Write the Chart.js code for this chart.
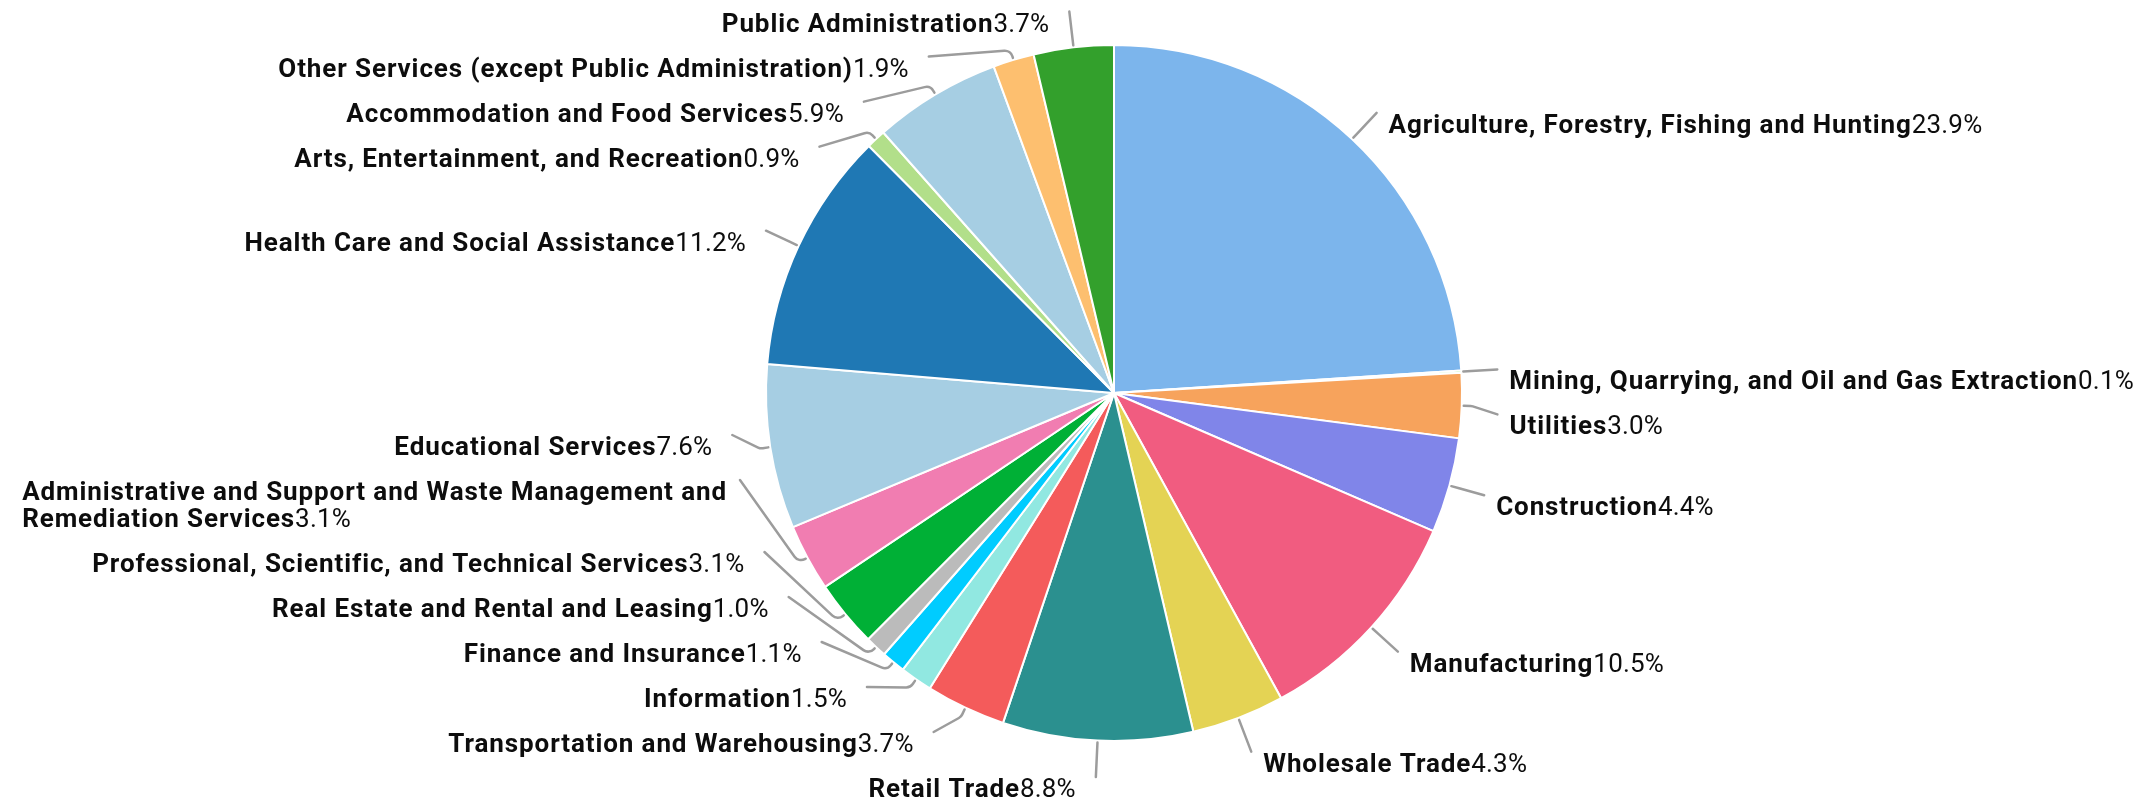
<!DOCTYPE html>
<html>
<head>
<meta charset="utf-8">
<script src="https://cdn.jsdelivr.net/npm/chart.js@4.4.1/dist/chart.umd.min.js"></script>
<style>
  html, body { margin: 0; padding: 0; background: #ffffff; }
  #wrap { width: 2154px; height: 800px; position: relative; }
</style>
</head>
<body>
<div id="wrap"><canvas id="c" width="2154" height="800"></canvas></div>
<script>
// ---- data ----
const categories = [
  "Agriculture, Forestry, Fishing and Hunting",
  "Mining, Quarrying, and Oil and Gas Extraction",
  "Utilities",
  "Construction",
  "Manufacturing",
  "Wholesale Trade",
  "Retail Trade",
  "Transportation and Warehousing",
  "Information",
  "Finance and Insurance",
  "Real Estate and Rental and Leasing",
  "Professional, Scientific, and Technical Services",
  "Administrative and Support and Waste Management and Remediation Services",
  "Educational Services",
  "Health Care and Social Assistance",
  "Arts, Entertainment, and Recreation",
  "Accommodation and Food Services",
  "Other Services (except Public Administration)",
  "Public Administration"
];
const shares = [23.9, 0.1, 3.0, 4.4, 10.5, 4.3, 8.8, 3.7, 1.5, 1.1, 1.0, 3.1, 3.1, 7.6, 11.2, 0.9, 5.9, 1.9, 3.7];
const sliceColors = [
  "#7cb5ec", "#90ed7d", "#f7a35c", "#8085e9", "#f15c80", "#e4d354", "#2b908f",
  "#f45b5b", "#91e8e1", "#00ccff", "#bbbbbb", "#00b036", "#f17db1", "#a6cee3",
  "#1f78b4", "#b2df8a", "#a6cee3", "#fdbf6f", "#33a02c"
];

// ---- label style ----
const FONT_FAMILY = 'Roboto, "Noto Sans", sans-serif';
const FONT_SIZE = 26;
const BOLD_FONT = "bold " + FONT_SIZE + "px " + FONT_FAMILY;
const REG_FONT = FONT_SIZE + "px " + FONT_FAMILY;
const BOLD_LS = "0.9px";
const REG_LS = "0.2px";
const TEXT_COLOR = "#0d0d0d";
const LINE_COLOR = "#9c9c9c";
const LEN = 36;        // label line length beyond the pie edge
const BEND = 10;       // first radial segment
const SPACING = 45;    // vertical room per label
const LINE_H = 27;     // line height for wrapped labels
const GAP_R = 12, GAP_L = 20, GAP_ML = 13;
const BASE_OFF = 20;

function pctText(v) { return v.toFixed(1) + "%"; }

const outsideLabels = {
  id: "outsideLabels",
  afterDraw(chart) {
    const ctx = chart.ctx;
    const meta = chart.getDatasetMeta(0);
    const W = chart.width, H = chart.height;
    const minY = 8, maxY = H - 23;

    function setBold() { ctx.font = BOLD_FONT; if ("letterSpacing" in ctx) ctx.letterSpacing = BOLD_LS; }
    function setReg() { ctx.font = REG_FONT; if ("letterSpacing" in ctx) ctx.letterSpacing = REG_LS; }
    function measure(text, pct) {
      setBold();
      let w = ctx.measureText(text).width;
      if (pct) { setReg(); w += ctx.measureText(pct).width; }
      return w;
    }
    function wrap(name, pct, maxW) {
      const words = name.split(" ");
      const lines = [];
      let cur = "";
      for (let k = 0; k < words.length; k++) {
        const isLast = k === words.length - 1;
        const test = cur ? cur + " " + words[k] : words[k];
        const w = measure(test, isLast ? pct : "");
        if (w > maxW && cur) { lines.push(cur); cur = words[k]; }
        else cur = test;
      }
      lines.push(cur);
      return lines;
    }

    ctx.save();
    const items = meta.data.map((arc, i) => {
      const p = arc.getProps(["x", "y", "startAngle", "endAngle", "outerRadius"], true);
      const a = (p.startAngle + p.endAngle) / 2;
      const ux = Math.cos(a), uy = Math.sin(a);
      const r = p.outerRadius;
      return {
        i, cx: p.x, cy: p.y, r, ux, uy, dir: ux < 0 ? -1 : 1,
        name: categories[i], pct: pctText(shares[i]),
        ex: p.x + (r + 2) * ux, ey: p.y + (r + 2) * uy,
        bx: p.x + (r + BEND) * ux, by: p.y + (r + BEND) * uy,
        nx: p.x + (r + LEN) * ux, ny: p.y + (r + LEN) * uy
      };
    });

    function availW(it, x) {
      return it.dir > 0 ? (W - (x + GAP_R) - 2) : (x - GAP_ML - 6);
    }

    [1, -1].forEach(dir => {
      const list = items.filter(it => it.dir === dir).sort((a, b) => a.ny - b.ny);
      list.forEach(it => { it.px = it.nx; it.py = it.ny; });
      for (let iter = 0; iter < 2; iter++) {
        list.forEach(it => {
          it.lines = wrap(it.name, it.pct, availW(it, it.px));
          it.h = SPACING + LINE_H * (it.lines.length - 1);
        });
        // top-down push
        for (let k = 0; k < list.length; k++) {
          let y = Math.max(list[k].ny, minY);
          if (k > 0) y = Math.max(y, list[k - 1].py + list[k - 1].h);
          list[k].py = y;
        }
        // bottom-up clamp
        for (let k = list.length - 1; k >= 0; k--) {
          let y = list[k].py;
          if (k === list.length - 1) y = Math.min(y, maxY - LINE_H * (list[k].lines.length - 1));
          else y = Math.min(y, list[k + 1].py - list[k].h);
          list[k].py = y;
        }
        // re-align x on circle for moved labels
        list.forEach(it => {
          if (Math.abs(it.py - it.ny) > 0.5) {
            const rA = it.r + LEN;
            const dy = it.py - it.cy;
            const dx = Math.sqrt(Math.max(0, rA * rA - dy * dy));
            it.px = it.cx + dir * dx;
          } else {
            it.px = it.nx;
          }
        });
      }
    });

    // leader lines
    ctx.strokeStyle = LINE_COLOR;
    ctx.lineWidth = 2.5;
    ctx.lineJoin = "round";
    ctx.lineCap = "round";
    items.forEach(it => {
      ctx.beginPath();
      ctx.moveTo(it.ex, it.ey);
      ctx.arcTo(it.bx, it.by, it.px, it.py, 8);
      ctx.lineTo(it.px, it.py);
      ctx.stroke();
    });
    // texts
    ctx.fillStyle = TEXT_COLOR;
    ctx.textBaseline = "alphabetic";
    ctx.textAlign = "left";
    items.forEach(it => {
      const n = it.lines.length;
      const widths = it.lines.map((t, k) => measure(t, k === n - 1 ? it.pct : ""));
      const blockW = Math.max.apply(null, widths);
      it.lines.forEach((t, k) => {
        const by = it.py + BASE_OFF + k * LINE_H;
        let x0;
        if (it.dir > 0) x0 = it.px + GAP_R;
        else if (n === 1) x0 = it.px - GAP_L - widths[0];
        else x0 = it.px - GAP_ML - blockW;
        setBold();
        ctx.fillText(t, x0, by);
        if (k === n - 1) {
          const w = ctx.measureText(t).width;
          setReg();
          ctx.fillText(it.pct, x0 + w, by);
        }
      });
    });
    if ("letterSpacing" in ctx) ctx.letterSpacing = "0px";
    ctx.restore();
  }
};

new Chart(document.getElementById("c"), {
  type: "pie",
  data: {
    labels: categories,
    datasets: [{
      data: shares,
      backgroundColor: sliceColors,
      borderColor: "#ffffff",
      borderWidth: 2,
      hoverOffset: 0
    }]
  },
  options: {
    responsive: false,
    animation: false,
    layout: { padding: { top: 44, bottom: 58, left: 74, right: 0 } },
    plugins: { legend: { display: false }, tooltip: { enabled: false } }
  },
  plugins: [outsideLabels]
});
</script>
</body>
</html>
